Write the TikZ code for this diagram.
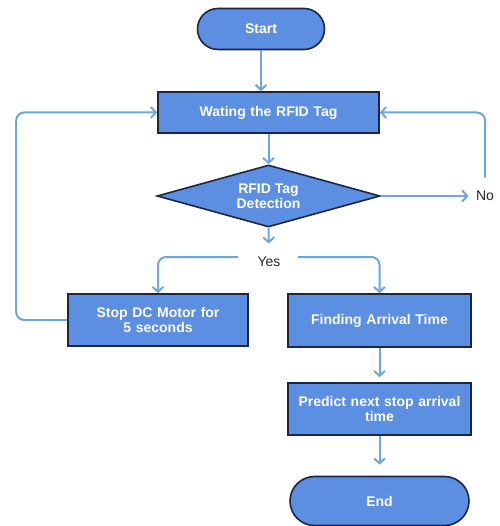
\documentclass[tikz,border=0pt]{standalone}
\usepackage{fontspec}
\setmainfont{Liberation Sans}
\usepackage{tikz}
\usetikzlibrary{shapes.geometric, shapes.misc, arrows.meta}
\definecolor{boxblue}{RGB}{92,143,226}
\definecolor{boxline}{RGB}{28,38,66}
\definecolor{flowblue}{RGB}{112,166,218}
\tikzset{boxtext/.style={text=white, font=\fontsize{14}{15}\selectfont\bfseries, align=center}}
\tikzset{base/.style={draw=boxline, line width=1.6pt, fill=boxblue, boxtext, inner sep=2pt}}
\tikzset{terminal/.style={base, rounded rectangle, minimum width=131pt, minimum height=41pt}}
\tikzset{process/.style={base, rectangle, minimum width=183pt, minimum height=52pt, text width=179pt}}
\tikzset{decision/.style={base, diamond, minimum width=223pt, minimum height=62pt, inner sep=0pt}}
\tikzset{answer/.style={font=\fontsize{14}{16}\selectfont, text=black!85}}
\tikzset{flow/.style={draw=flowblue, line width=2pt, -{Straight Barb[length=5pt,width=11pt]}}}

\begin{document}
\begin{tikzpicture}[x=1pt, y=-1pt]
\useasboundingbox (0,0) rectangle (499,526);
\node[terminal] (start) at (261,29) {Start};
\node[process, minimum width=221pt, minimum height=41pt, text width=217pt] (wait) at (268.5,112.5) {Wating the RFID Tag};
\node[decision, label={[boxtext]center:RFID Tag\\Detection}] (detect) at (268.5,196) {};
\node[answer] (no) at (485,196) {No};
\node[answer] (yes) at (269,262) {Yes};
\node[process, minimum width=180pt, text width=176pt] (stop) at (158,320) {Stop DC Motor for\\5 seconds};
\node[process, minimum height=53pt] (find) at (379.5,320.5) {Finding Arrival Time};
\node[process] (pred) at (379.5,409) {Predict next stop arrival\\time};
\node[terminal, minimum width=183pt, minimum height=49pt] (end) at (379.5,501) {End};
% main line
\draw[flow] (start.south) -- (start.south |- wait.north);
\draw[flow] (wait) -- (detect);
\draw[flow, shorten >=10pt] (detect.south) -- (yes.north);
\draw[flow, shorten >=4pt] (detect.east) -- (no.west);
% back to waiting
\draw[flow, rounded corners=8pt, shorten <=10pt] (no.north) |- (wait.east);
\draw[flow, rounded corners=8pt] (stop.west) -- ++(-51,0) |- (wait.west);
% yes branches
\draw[flow, rounded corners=8pt, shorten <=16pt] ([yshift=5pt]yes.west) -| (stop.north);
\draw[flow, rounded corners=8pt, shorten <=14pt] ([yshift=5pt]yes.east) -| (find.north);
\draw[flow, shorten >=5pt] (find) -- (pred);
\draw[flow, shorten >=11pt] (pred) -- (end);
\end{tikzpicture}
\end{document}
